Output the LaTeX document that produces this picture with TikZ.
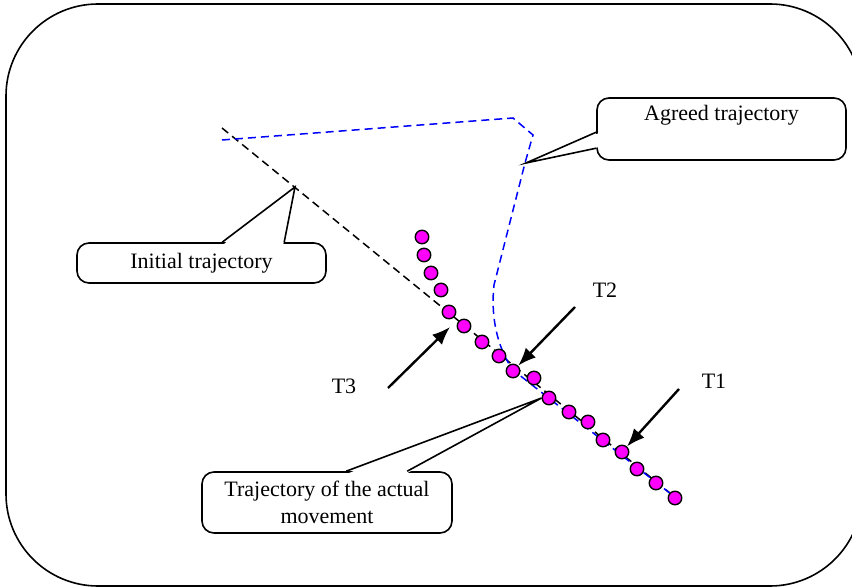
\documentclass[tikz,border=0pt]{standalone}
\usepackage{fontspec}
\setmainfont{Liberation Serif}
\usetikzlibrary{arrows.meta,calc}
\definecolor{dotpink}{RGB}{255,0,255}
\definecolor{agrblue}{RGB}{0,0,255}
\tikzset{
  dot/.style={circle,draw,fill=dotpink,line width=1.4pt,minimum size=13.5pt,inner sep=0pt},
  callbox/.style={draw,fill=white,line width=1.6pt,rounded corners=12pt,inner sep=0pt,align=center},
  pointer/.style={line width=1.6pt},
  arr/.style={line width=2.4pt,-{Latex[length=18pt,width=14pt]}},
  traj/.style={line width=1.5pt,dash pattern=on 8pt off 5pt}
}
\begin{document}
\begin{tikzpicture}[x=1pt,y=-1pt,font=\fontsize{22}{27}\selectfont]
\useasboundingbox (0,0) rectangle (852,588);
\clip (0,0) rectangle (852,588);
\draw[line width=1.6pt,rounded corners=92pt] (6,4) rectangle (862,586);

\coordinate (initA) at (222,128);
\coordinate (initB) at (676,498);
\coordinate (agrA) at (222,140);
\draw[traj] (initA) -- (initB);
\draw[traj,agrblue] (agrA) -- (513,118) -- (533,135) -- (525,163) -- (494,285)
  .. controls (490,322) and (500,352) .. (513,370) -- (initB);

\foreach \x/\y [count=\i] in {422/237,424/255,431/273,441/290,449/312,464/326,
  482/342,499/356,513/371,534/378,549/398,569/412,588/422,603/440,622/452,
  637/469,656/483,675/498}
  \node[dot] (d\i) at (\x,\y) {};

\node (t1) at (714,381) {T1};
\node (t2) at (605,290) {T2};
\node (t3) at (344,386) {T3};
\coordinate (t1From) at (679,389);
\coordinate (t2From) at (575,307);
\coordinate (t3From) at (388,388);
\coordinate (t3To) at (450,327);
\draw[arr] (t1From) -- (d15);
\draw[arr] (t2From) -- (d9);
\draw[arr] (t3From) -- (t3To);

\node[callbox,minimum width=249pt,minimum height=40pt] (init) at (201.5,263) {Initial trajectory};
\coordinate (initTip) at (295,187);
\fill[white] ($(init.north west)+(147,2.5)$) -- (initTip) -- ($(init.north west)+(207,2.5)$) -- cycle;
\draw[pointer] ($(init.north west)+(146,0)$) -- (initTip) -- ($(init.north west)+(208,0)$);

\node[callbox,minimum width=249pt,minimum height=62pt] (agreed) at (721.5,129) {};
\node (agreedTxt) at (721.5,115) {Agreed trajectory};
\coordinate (agrTip) at (526,163);
\fill[white] ($(agreed.north west)+(2.5,36)$) -- (agrTip) -- ($(agreed.north west)+(2.5,50)$) -- cycle;
\draw[pointer] ($(agreed.north west)+(0,35)$) -- (agrTip) -- ($(agreed.north west)+(0,51)$);

\node[callbox,minimum width=250pt,minimum height=61pt] (actual) at (327,502.5) {Trajectory of the actual\\movement};
\fill[white] ($(actual.north west)+(146,2.5)$) -- (d11.west) -- ($(actual.north west)+(205,2.5)$) -- cycle;
\draw[pointer] ($(actual.north west)+(145,0)$) -- (d11.west) -- ($(actual.north west)+(206,0)$);
\end{tikzpicture}
\end{document}
